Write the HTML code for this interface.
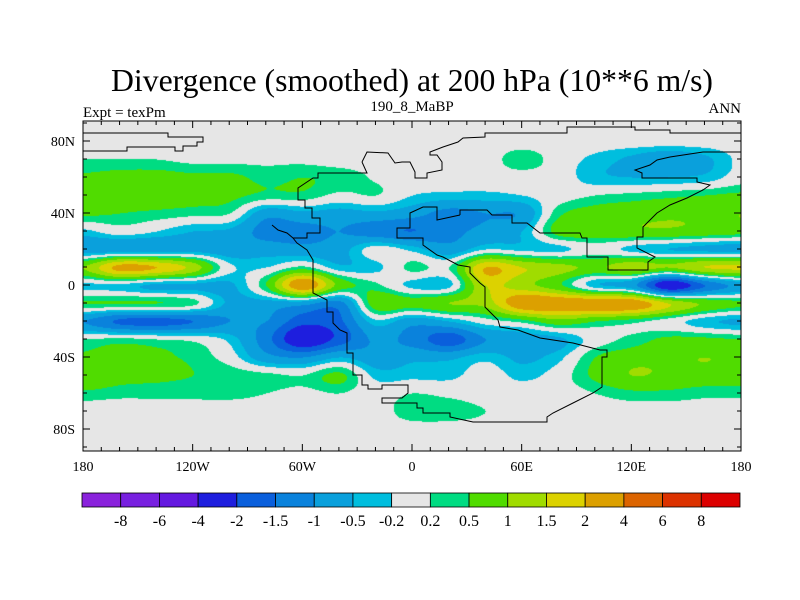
<!DOCTYPE html>
<html><head><meta charset="utf-8">
<style>
html,body{margin:0;padding:0;background:#fff;}
#wrap{position:relative;width:800px;height:600px;overflow:hidden;}
svg text{font-family:"Liberation Serif",serif;fill:#000;}
</style></head>
<body>
<div id="wrap">
<canvas id="field" width="658" height="330" style="position:absolute;left:83px;top:121px;"></canvas>
<svg id="svg" width="800" height="600" style="position:absolute;left:0;top:0;">
<text x="412" y="91" font-size="32" text-anchor="middle" textLength="602" lengthAdjust="spacingAndGlyphs">Divergence (smoothed) at 200 hPa (10**6 m/s)</text>
<text x="83" y="117" font-size="15">Expt = texPm</text>
<text x="412" y="111" font-size="15" text-anchor="middle">190_8_MaBP</text>
<text x="741" y="113" font-size="15" text-anchor="end">ANN</text>
<g id="coast" fill="none" stroke="#000" stroke-width="1"></g>
<g id="axes"></g>
<g id="cbar"></g>
</svg>
</div>
<script>
// ---- data ----
const lats = [90,80,70,60,50,40,30,20,10,0,-10,-20,-30,-40,-50,-60,-70,-80,-90];
const lons = [-180,-160,-140,-120,-100,-80,-60,-40,-20,0,20,40,60,80,100,120,140,160,180];
// values per longitude column, from north (90) to south (-90)
const colW180 = [0,0,0.2,0.6,1.0,0.6,-0.3,-0.8,1.0,-0.3,0.5,-1.0,0.2,0.6,1.0,0.4,0,0,0];
const colW160 = [0,0,0.2,0.7,0.8,0.5,0,-0.8,2.2,-0.3,0.5,-1.6,0.3,0.7,0.7,0.3,0,0,0];
const colW140 = [0,0,0.2,0.7,0.8,0.4,-0.2,-0.8,2.0,-0.6,0.5,-1.7,0.2,0.6,0.6,0.3,0,0,0];
const colW120 = [0,0,0.1,0.6,0.7,0.3,-0.5,-0.7,1.3,-0.6,0.3,-1.5,0.1,0.4,0.5,0.3,0,0,0];
const colW100 = [0,0,0.1,0.6,0.6,0.2,-0.6,-0.8,-0.1,-0.6,-0.6,-1.0,-0.3,0.0,0.4,0.3,0,0,0];
const colW80  = [0,0,0.1,0.4,0.4,-0.8,-1.2,-0.7,-0.2,0.5,-0.7,-1.0,-1.3,-0.8,0.3,0.2,0,0,0];
const colW60  = [0,0,0.1,0.5,0.4,-0.6,-1.2,-0.8,0.3,2.5,-0.8,-1.8,-2.5,-1.0,0.2,0.1,0,0,0];
const colW40  = [0,0,0,0.4,0.1,-0.7,-1.0,-0.7,-0.4,0.8,-1.2,-1.6,-1.8,-0.5,0.6,0.2,0,0,0];
const colW20  = [0,0,0,0.15,0.2,-0.6,-1.3,0.0,-0.3,0.3,0.8,-0.3,-0.9,-0.8,-0.3,0,0,0,0];
const col0    = [0,0,0,0,-0.2,-0.8,-1.5,-0.3,0.3,-0.3,0.7,-0.8,-1.2,-0.6,-0.3,0.2,0.4,0,0];
const colE20  = [0,0,0,0,-0.3,-1.2,-1.2,-0.8,0.2,-0.3,1.0,-0.5,-1.8,-0.6,-0.3,0.1,0.4,0,0];
const colE40  = [0,0,0,0,-0.3,-1.0,-0.8,-0.2,2.0,1.5,1.2,0.0,-1.0,-0.3,0,0,0.2,0,0];
const colE60  = [0,0,0.4,0,-0.2,-0.9,-0.5,-0.3,1.5,1.2,2.5,0.3,-0.8,-0.6,-0.3,0,0,0,0];
const colE80  = [0,0,0,0,0,0.4,0.7,-0.3,1.2,0.6,2.5,0.8,-0.6,-0.3,0,0,0,0,0];
const colE100 = [0,0,-0.3,-0.4,0.2,0.7,0.8,0.0,0.9,-0.4,2.5,0.5,0.0,0.5,0.6,0.2,0,0,0];
const colE120 = [0,0,-0.6,-0.5,0.3,0.8,0.9,-0.3,1.3,-0.8,2.5,0.3,0.3,0.8,1.0,0.4,0,0,0];
const colE140 = [0,0,-0.9,-0.5,0.4,0.9,0.9,-0.5,1.0,-2.5,1.5,0.0,0.6,0.9,0.9,0.4,0,0,0];
const colE160 = [0,0,-0.6,-0.4,0.5,0.9,0.8,-0.6,1.5,-1.5,0.9,-0.4,0.6,1.0,0.8,0.3,0,0,0];
const colE180 = [0,0,-0.1,0,0.6,1.0,0.7,-0.7,1.6,-0.8,0.6,-0.6,0.5,0.9,0.8,0.3,0,0,0];
const columns = [colW180,colW160,colW140,colW120,colW100,colW80,colW60,colW40,colW20,col0,colE20,colE40,colE60,colE80,colE100,colE120,colE140,colE160,colE180];
const levels = [-8,-6,-4,-2,-1.5,-1,-0.5,-0.2,0.2,0.5,1,1.5,2,4,6,8];
const levelLabels = ["-8","-6","-4","-2","-1.5","-1","-0.5","-0.2","0.2","0.5","1","1.5","2","4","6","8"];
const colors = ["#8a22dc","#7820e0","#6419e0","#1e1ede","#0a5fdc","#0a82dc","#0aa0dc","#00bede","#e6e6e6","#00dc82","#50dc00","#a0dc00","#dcd200","#dca000","#dc6400","#dc3200","#dc0000"];
const yTickLabels = ["80N","40N","0","40S","80S"];
const yTickVals = [80,40,0,-40,-80];
const xTickLabels = ["180","120W","60W","0","60E","120E","180"];
const xTickVals = [-180,-120,-60,0,60,120,180];

// ---- axes functions ----
const X0=83, X1=741, YEQ=285, PXLAT=1.8, YTOP=121, YBOT=451;
function xOf(lon){return 412 + lon*(X1-X0)/360;}
function yOf(lat){return YEQ - lat*PXLAT;}
function lonOf(x){return (x-412)*360/(X1-X0);}
function latOf(y){return (YEQ-y)/PXLAT;}

// ---- field ----
function cr(p0,p1,p2,p3,t){return 0.5*((2*p1)+(-p0+p2)*t+(2*p0-5*p1+4*p2-p3)*t*t+(-p0+3*p1-3*p2+p3)*t*t*t);}
function val(ci,ri){ci=Math.max(0,Math.min(lons.length-1,ci));ri=Math.max(0,Math.min(lats.length-1,ri));return columns[ci][ri];}
function sample(lon,lat){
  const fc=(lon-lons[0])/(lons[1]-lons[0]);
  const fr=(lats[0]-lat)/(lats[0]-lats[1]);
  const ci=Math.floor(fc), ri=Math.floor(fr), tc=fc-ci, tr=fr-ri;
  const rowv=[];
  for(let k=-1;k<=2;k++){rowv.push(cr(val(ci-1,ri+k),val(ci,ri+k),val(ci+1,ri+k),val(ci+2,ri+k),tc));}
  return cr(rowv[0],rowv[1],rowv[2],rowv[3],tr);
}
function colorIdx(v){let i=0;while(i<levels.length && v>=levels[i])i++;return i;}
const cv=document.getElementById('field');
const ctx=cv.getContext('2d');
const img=ctx.createImageData(cv.width,cv.height);
const rgb=colors.map(c=>[parseInt(c.substr(1,2),16),parseInt(c.substr(3,2),16),parseInt(c.substr(5,2),16)]);
for(let py=0;py<cv.height;py++){
  let lat=Math.max(-90,Math.min(90,latOf(py+YTOP)));
  for(let px=0;px<cv.width;px++){
    const lon=Math.max(-180,Math.min(180,lonOf(px+X0)));
    const c=rgb[colorIdx(sample(lon,lat))];
    const o=(py*cv.width+px)*4;
    img.data[o]=c[0];img.data[o+1]=c[1];img.data[o+2]=c[2];img.data[o+3]=255;
  }
}
ctx.putImageData(img,0,0);

const NS='http://www.w3.org/2000/svg';
function mk(tag,attrs,parent){const e=document.createElementNS(NS,tag);for(const k in attrs)e.setAttribute(k,attrs[k]);parent.appendChild(e);return e;}

// ---- coastlines (approximate paleogeography) ----
const coast=document.getElementById('coast');
const coastLines=[
 "83,133 168,133 168,137 203,137 203,142 197,142 197,146 183,146 183,151 175,151 175,147 127,147 127,151 83,151",
 "362,162 367,152 388,153 395,163 402,162 410,162 415,172 415,178 427,178 427,173 442,170 442,162 437,155 430,155 430,152 443,147 458,142 463,138 485,137 485,133 567,133 567,127 635,127 635,130 670,130 670,133 741,133",
 "362,162 367,173 318,173 318,178 313,178 298,188 298,200 305,200 305,208 312,208 312,218 320,218 320,233 307,233 307,238 293,238 287,233 278,230 272,225",
 "293,238 297,243 307,250 313,260 313,293 327,300 327,312 333,312 333,323 340,330 347,333 347,353 353,353 353,375 362,375 362,385 368,385 368,389 382,389 382,385 408,385 408,393 402,398 382,398 382,403 417,403 417,408 423,408 423,413 450,413 450,417 473,422 547,422 547,417 553,413 573,403 593,393 602,387 602,357 607,357 607,350 600,350 573,343 540,338 518,330 500,327 498,320 485,307 485,287 480,283 470,273 470,267 458,265 443,257 437,255 423,245 423,238 397,238 397,228 410,228 410,213 423,207 437,207 437,220 460,215",
 "460,215 460,210 487,210 492,215 512,215 512,223 527,223 540,233 580,233 582,238 587,238 587,257 608,257 608,270 648,270 648,262 655,257 637,248 637,237 643,237 643,227 657,213 670,205 687,198 703,190 710,185 697,182 697,178 642,178 642,173 635,170 650,165 657,160 670,157 703,152 741,152"
];
coastLines.forEach((pts,i)=>{
  const p=mk('polyline',{points:pts},coast);
  
  
});

// ---- axes ----
const axes=document.getElementById('axes');
const frame=mk('rect',{x:X0,y:YTOP,width:X1-X0,height:YBOT-YTOP,fill:'none',stroke:'#000','stroke-width':1},axes);


for(let lon=-180;lon<=180;lon+=10){
  const x=xOf(lon), L=(lon%60===0)?7:4;
  const t1=mk('line',{x1:x,y1:YTOP,x2:x,y2:YTOP+L,stroke:'#000'},axes);
  
  
  const t2=mk('line',{x1:x,y1:YBOT,x2:x,y2:YBOT-L,stroke:'#000'},axes);
  
  
}
for(let lat=-90;lat<=90;lat+=10){
  const y=yOf(lat); if(y<YTOP||y>YBOT)continue;
  const L=(lat%40===0)?7:4;
  const t1=mk('line',{x1:X0,y1:y,x2:X0+L,y2:y,stroke:'#000'},axes);
  
  
  const t2=mk('line',{x1:X1,y1:y,x2:X1-L,y2:y,stroke:'#000'},axes);
  
  
}
yTickVals.forEach((v,i)=>{
  const t=mk('text',{x:75,y:yOf(v)+5,'font-size':14,'text-anchor':'end'},axes);
  t.textContent=yTickLabels[i];
  
  
});
xTickVals.forEach((v,i)=>{
  const t=mk('text',{x:xOf(v),y:471,'font-size':14,'text-anchor':'middle'},axes);
  t.textContent=xTickLabels[i];
  
  
});

// ---- colorbar ----
const cbar=document.getElementById('cbar');
const CB0=82, CB1=740, CBY=493, CBH=14, bw=(CB1-CB0)/colors.length;
colors.forEach((c,i)=>{
  const r=mk('rect',{x:CB0+i*bw,y:CBY,width:bw,height:CBH,fill:c,stroke:'#000','stroke-width':0.8},cbar);
  
  
});
levelLabels.forEach((s,i)=>{
  const t=mk('text',{x:CB0+(i+1)*bw,y:526,'font-size':16,'text-anchor':'middle'},cbar);
  t.textContent=s;
  
  
});
</script>
</body></html>
